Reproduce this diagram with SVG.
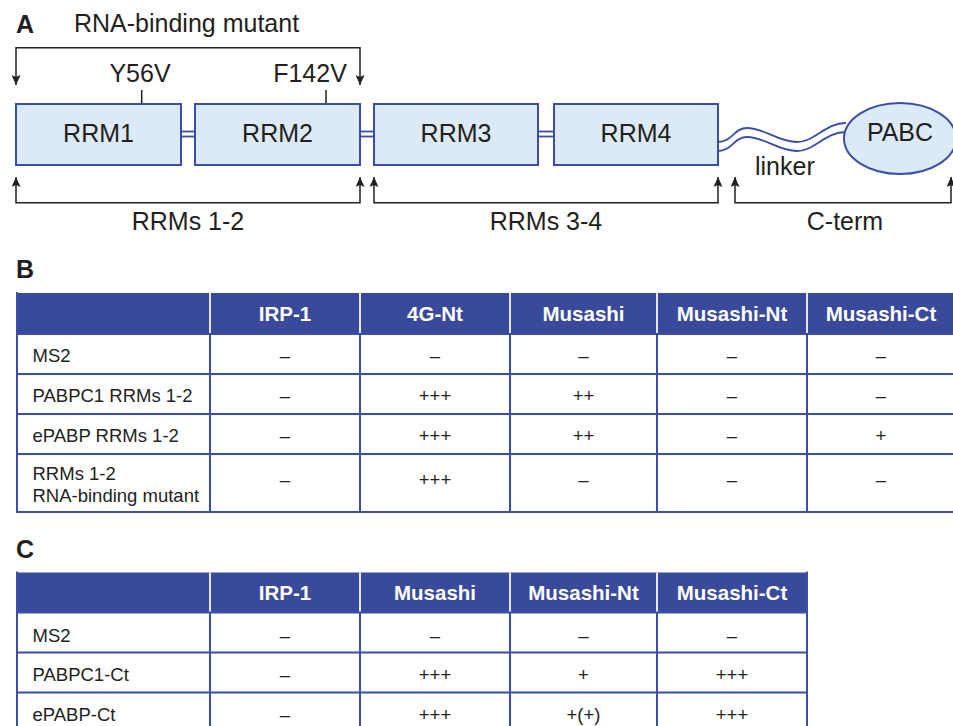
<svg xmlns="http://www.w3.org/2000/svg" width="953" height="726" viewBox="0 0 953 726">
<defs>
<style>
.t{font-family:"Liberation Sans",Arial,sans-serif;fill:#231F20}
.big{font-size:25px}
.lab{font-size:25px;font-weight:bold}
.cell{font-size:18.5px}
.hd{font-family:"Liberation Sans",Arial,sans-serif;font-size:20.5px;font-weight:bold;fill:#FFFFFF}
.box{fill:#DCEAF6;stroke:#3A4DA8;stroke-width:2}
.lnk{fill:none;stroke:#3A4DA8;stroke-width:1.8}
.br{fill:none;stroke:#231F20;stroke-width:1.5;marker-start:url(#ah);marker-end:url(#ah)}
.tick{stroke:#231F20;stroke-width:1.5}
.hfill{fill:#394A9A}
.grid{stroke:#3B4FAA;stroke-width:2;fill:none}
.hdiv{stroke:#E4E7F2;stroke-width:2}
</style>
<marker id="ah" viewBox="0 0 10 9" refX="10" refY="4.5" markerWidth="10" markerHeight="9" markerUnits="userSpaceOnUse" orient="auto-start-reverse">
<path d="M0,0 L10,4.5 L0,9 L2,4.5 z" fill="#231F20"/>
</marker>
</defs>
<rect width="953" height="726" fill="#FFFFFF"/>

<!-- Panel A -->
<text class="t lab" x="16" y="33">A</text>
<text class="t big" x="74" y="32">RNA-binding mutant</text>

<g id="connectors">
<path class="br" d="M16,85 V47.7 H360 V85"/>
<path class="br" d="M16,177 V202.7 H360 V177"/>
<path class="br" d="M374,177 V202.7 H718 V177"/>
<path class="br" d="M735,177 V202.7 H951 V177"/>
<line class="tick" x1="141.7" y1="90" x2="141.7" y2="115"/>
<line class="tick" x1="326" y1="90" x2="326" y2="115"/>
<line class="lnk" x1="181" y1="131.5" x2="195" y2="131.5"/>
<line class="lnk" x1="181" y1="136.5" x2="195" y2="136.5"/>
<line class="lnk" x1="360" y1="131.5" x2="374" y2="131.5"/>
<line class="lnk" x1="360" y1="136.5" x2="374" y2="136.5"/>
<line class="lnk" x1="538" y1="131.5" x2="554" y2="131.5"/>
<line class="lnk" x1="538" y1="136.5" x2="554" y2="136.5"/>
<path class="lnk" d="M718,142 C732,142 734,128 747,128 C765,128 778,142 797,142 C815,142 825,123 846,123"/>
<path class="lnk" d="M718,151 C732,151 734,137 747,137 C765,137 778,151 797,151 C815,151 825,132 846,132"/>
</g>

<text class="t big" x="140" y="82" text-anchor="middle">Y56V</text>
<text class="t big" x="310" y="82" text-anchor="middle">F142V</text>

<g id="rrm1"><rect class="box" x="16" y="104" width="165" height="61"/><text class="t big" x="98.5" y="142" text-anchor="middle">RRM1</text></g>
<g id="rrm2"><rect class="box" x="195" y="104" width="165" height="61"/><text class="t big" x="277.5" y="142" text-anchor="middle">RRM2</text></g>
<g id="rrm3"><rect class="box" x="374" y="104" width="164" height="61"/><text class="t big" x="456" y="142" text-anchor="middle">RRM3</text></g>
<g id="rrm4"><rect class="box" x="554" y="104" width="164" height="61"/><text class="t big" x="636" y="142" text-anchor="middle">RRM4</text></g>
<g id="pabc"><ellipse class="box" cx="900" cy="138.5" rx="56" ry="35.5"/><text class="t big" x="900" y="141" text-anchor="middle">PABC</text></g>

<text class="t big" x="755" y="175">linker</text>
<text class="t big" x="188" y="230" text-anchor="middle">RRMs 1-2</text>
<text class="t big" x="546" y="230" text-anchor="middle">RRMs 3-4</text>
<text class="t big" x="845" y="230" text-anchor="middle">C-term</text>

<!-- Panel B -->
<text class="t lab" x="16" y="278">B</text>
<g id="tableB">
<rect class="hfill" x="17" y="293" width="938" height="41"/>
<g class="hdiv">
<line x1="210" y1="293" x2="210" y2="334"/><line x1="360" y1="293" x2="360" y2="334"/><line x1="510" y1="293" x2="510" y2="334"/><line x1="657" y1="293" x2="657" y2="334"/><line x1="807" y1="293" x2="807" y2="334"/>
</g>
<g class="grid">
<line x1="17" y1="292" x2="17" y2="513"/>
<line x1="210" y1="334" x2="210" y2="513"/><line x1="360" y1="334" x2="360" y2="513"/><line x1="510" y1="334" x2="510" y2="513"/><line x1="657" y1="334" x2="657" y2="513"/><line x1="807" y1="334" x2="807" y2="513"/>
<line x1="16" y1="334" x2="955" y2="334"/><line x1="16" y1="374" x2="955" y2="374"/><line x1="16" y1="414" x2="955" y2="414"/><line x1="16" y1="454" x2="955" y2="454"/><line x1="16" y1="512" x2="955" y2="512"/>
</g>
<text class="hd" x="285" y="320.7" text-anchor="middle">IRP-1</text>
<text class="hd" x="435" y="320.7" text-anchor="middle">4G-Nt</text>
<text class="hd" x="583.5" y="320.7" text-anchor="middle">Musashi</text>
<text class="hd" x="732" y="320.7" text-anchor="middle">Musashi-Nt</text>
<text class="hd" x="881" y="320.7" text-anchor="middle">Musashi-Ct</text>

<g class="t cell" text-anchor="middle">
<text x="285" y="361.5">–</text><text x="435" y="361.5">–</text><text x="583.5" y="361.5">–</text><text x="732" y="361.5">–</text><text x="881" y="361.5">–</text>
<text x="285" y="401.5">–</text><text x="435" y="401.5">+++</text><text x="583.5" y="401.5">++</text><text x="732" y="401.5">–</text><text x="881" y="401.5">–</text>
<text x="285" y="441.5">–</text><text x="435" y="441.5">+++</text><text x="583.5" y="441.5">++</text><text x="732" y="441.5">–</text><text x="881" y="441.5">+</text>
<text x="285" y="485.5">–</text><text x="435" y="485.5">+++</text><text x="583.5" y="485.5">–</text><text x="732" y="485.5">–</text><text x="881" y="485.5">–</text>
</g>
<g class="t cell">
<text x="32.5" y="361.5">MS2</text>
<text x="32.5" y="401.5">PABPC1 RRMs 1-2</text>
<text x="32.5" y="441.5">ePABP RRMs 1-2</text>
<text x="32.5" y="479.5">RRMs 1-2</text>
<text x="32.5" y="502">RNA-binding mutant</text>
</g>
</g>

<!-- Panel C -->
<text class="t lab" x="16" y="558">C</text>
<g id="tableC">
<rect class="hfill" x="17" y="572.5" width="790" height="40"/>
<g class="hdiv">
<line x1="210" y1="572.5" x2="210" y2="612.5"/><line x1="360" y1="572.5" x2="360" y2="612.5"/><line x1="510" y1="572.5" x2="510" y2="612.5"/><line x1="657" y1="572.5" x2="657" y2="612.5"/>
</g>
<g class="grid">
<line x1="17" y1="571.5" x2="17" y2="730"/>
<line x1="807" y1="571.5" x2="807" y2="730"/>
<line x1="210" y1="612.5" x2="210" y2="730"/><line x1="360" y1="612.5" x2="360" y2="730"/><line x1="510" y1="612.5" x2="510" y2="730"/><line x1="657" y1="612.5" x2="657" y2="730"/>
<line x1="16" y1="612.5" x2="808" y2="612.5"/><line x1="16" y1="652.5" x2="808" y2="652.5"/><line x1="16" y1="692.5" x2="808" y2="692.5"/>
</g>
<text class="hd" x="285" y="600" text-anchor="middle">IRP-1</text>
<text class="hd" x="435" y="600" text-anchor="middle">Musashi</text>
<text class="hd" x="583.5" y="600" text-anchor="middle">Musashi-Nt</text>
<text class="hd" x="732" y="600" text-anchor="middle">Musashi-Ct</text>
<g class="t cell" text-anchor="middle">
<text x="285" y="641.5">–</text><text x="435" y="641.5">–</text><text x="583.5" y="641.5">–</text><text x="732" y="641.5">–</text>
<text x="285" y="681">–</text><text x="435" y="681">+++</text><text x="583.5" y="681">+</text><text x="732" y="681">+++</text>
<text x="285" y="720.5">–</text><text x="435" y="720.5">+++</text><text x="583.5" y="720.5">+(+)</text><text x="732" y="720.5">+++</text>
</g>
<g class="t cell">
<text x="32.5" y="641.5">MS2</text>
<text x="32.5" y="681">PABPC1-Ct</text>
<text x="32.5" y="720.5">ePABP-Ct</text>
</g>
</g>
</svg>
